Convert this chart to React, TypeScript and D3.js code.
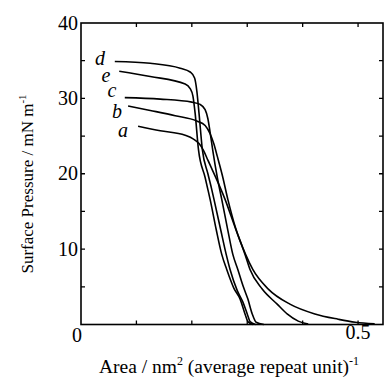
import React, { useEffect, useRef } from 'react';
import { select, scaleLinear, line, curveMonotoneX, range } from 'd3';

// isotherm curves, [area, pressure]
const curveA: [number, number][] = [
  [0.103, 26.3], [0.143, 25.7], [0.188, 25.1], [0.203, 24.6], [0.213, 24.0], [0.221, 23.1],
  [0.229, 21.8], [0.26, 16.6], [0.278, 12.9], [0.296, 9.3], [0.305, 7.3],
  [0.327, 4.7], [0.354, 2.7], [0.372, 1.4], [0.392, 0.45], [0.41, 0.05],
];
const curveB: [number, number][] = [
  [0.085, 29.0], [0.125, 28.4], [0.17, 27.7], [0.209, 27.0], [0.224, 26.4], [0.233, 25.3],
  [0.24, 23.9], [0.246, 22.3], [0.255, 19.8], [0.265, 16.6], [0.279, 12.8], [0.297, 9.3],
  [0.31, 7.3], [0.338, 4.7], [0.377, 2.7], [0.422, 1.4], [0.464, 0.7], [0.495, 0.3], [0.53, 0.1],
];
const curveC: [number, number][] = [
  [0.079, 30.1], [0.143, 29.9], [0.2, 29.5], [0.215, 29.2], [0.224, 28.5], [0.229, 27.3],
  [0.233, 25.5], [0.238, 23.0], [0.246, 19.5], [0.254, 16.6], [0.265, 12.5], [0.274, 9.3],
  [0.283, 7.3], [0.293, 5.0], [0.301, 3.4], [0.309, 1.4], [0.316, 0.3], [0.33, 0],
];
const curveD: [number, number][] = [
  [0.061, 34.9], [0.125, 34.65], [0.179, 34.0], [0.197, 33.5], [0.205, 32.7], [0.209, 31.0],
  [0.213, 28.0], [0.219, 23.2], [0.229, 20.0], [0.236, 17.9], [0.24, 16.6], [0.252, 12.6],
  [0.262, 9.3], [0.269, 7.3], [0.282, 4.5], [0.292, 3.0], [0.3, 1.4], [0.305, 0.4], [0.315, 0],
];
const curveE: [number, number][] = [
  [0.069, 33.6], [0.125, 32.9], [0.188, 31.9], [0.197, 31.3], [0.202, 30.3], [0.206, 28.0],
  [0.212, 23.2], [0.224, 19.5], [0.229, 17.9], [0.233, 16.6], [0.244, 12.6], [0.254, 9.3],
  [0.263, 7.3], [0.276, 4.8], [0.287, 3.4], [0.296, 1.4], [0.301, 0.4], [0.31, 0],
];

const curves = [curveA, curveB, curveC, curveD, curveE];
const curveLabels = ['a', 'b', 'c', 'd', 'e'];
// label baseline anchor in data coords
const labelPos: [number, number][] = [[0.0758, 24.9], [0.065, 27.4], [0.056, 30.2], [0.0343, 34.4], [0.0451, 32.2]];

const yTickLabels = ['0', '10', '20', '30', '40'];
const xTickLabels = ['0.5'];

const W = 386;
const H = 378;

const App = () => {
  const svgRef = useRef<SVGSVGElement>(null);

  useEffect(() => {
    const svg = select(svgRef.current);
    svg.selectAll('*').remove();

    const x = scaleLinear().domain([0, 0.545]).range([81, 383]);
    const y = scaleLinear().domain([0, 40]).range([324.5, 23]);
    const font = '"Liberation Serif", serif';

    // frame
    svg.append('rect')
      .attr('x', x(0)).attr('y', y(40))
      .attr('width', x(0.545) - x(0)).attr('height', y(0) - y(40))
      .attr('fill', 'none').attr('stroke', '#000').attr('stroke-width', 1.6);

    // ticks, inward on all four sides
    const xt = range(0.1, 0.55, 0.1);
    const yt = range(5, 40, 5);
    svg.selectAll('.xt').data(xt).join('path').attr('class', 'xt')
      .attr('d', d => `M${x(d)},${y(0)}v-4M${x(d)},${y(40)}v4`)
      .attr('stroke', '#000').attr('stroke-width', 1.3);
    svg.selectAll('.yt').data(yt).join('path').attr('class', 'yt')
      .attr('d', d => `M${x(0)},${y(d)}h4M${x(0.545)},${y(d)}h-4`)
      .attr('stroke', '#000').attr('stroke-width', 1.3);

    // tick labels
    svg.selectAll('.yl').data(yTickLabels.slice(1)).join('text').attr('class', 'yl')
      .attr('x', 78).attr('y', d => y(+d) + 6.5)
      .attr('text-anchor', 'end').attr('font-family', font).attr('font-size', 20)
      .text(d => d);
    svg.append('text').attr('x', 77).attr('y', y(0) + 17.5)
      .attr('text-anchor', 'middle').attr('font-family', font).attr('font-size', 20)
      .text(yTickLabels[0]);
    svg.selectAll('.xl').data(xTickLabels).join('text').attr('class', 'xl')
      .attr('x', d => x(+d)).attr('y', y(0) + 14.5)
      .attr('text-anchor', 'middle').attr('font-family', font).attr('font-size', 20)
      .text(d => d);

    // curves
    const ln = line<[number, number]>().x(d => x(d[0])).y(d => y(d[1])).curve(curveMonotoneX);
    svg.selectAll('.iso').data(curves).join('path').attr('class', 'iso')
      .attr('d', d => ln(d))
      .attr('fill', 'none').attr('stroke', '#000').attr('stroke-width', 1.6);

    svg.selectAll('.cl').data(curveLabels).join('text').attr('class', 'cl')
      .attr('x', (d, i) => x(labelPos[i][0])).attr('y', (d, i) => y(labelPos[i][1]))
      .attr('text-anchor', 'middle').attr('font-family', font).attr('font-style', 'italic')
      .attr('font-size', 20).text(d => d);

    // axis titles
    const xt2 = svg.append('text').attr('x', 229).attr('y', 373)
      .attr('text-anchor', 'middle').attr('font-family', font).attr('font-size', 19.5);
    xt2.append('tspan').text('Area / nm');
    xt2.append('tspan').attr('dy', -8).attr('font-size', 12).text('2');
    xt2.append('tspan').attr('dy', 8).text(' (average repeat unit)');
    xt2.append('tspan').attr('dy', -8).attr('font-size', 12).text('-1');

    const yt2 = svg.append('text').attr('transform', 'translate(33,184) rotate(-90)')
      .attr('text-anchor', 'middle').attr('font-family', font).attr('font-size', 17);
    yt2.append('tspan').text('Surface Pressure / mN m');
    yt2.append('tspan').attr('dy', -7).attr('font-size', 11).text('-1');
  }, []);

  return (
    <svg ref={svgRef} width={W} height={H} style={{ position: 'absolute', left: 0, top: 0, background: '#fff' }} />
  );
};

export default App;
